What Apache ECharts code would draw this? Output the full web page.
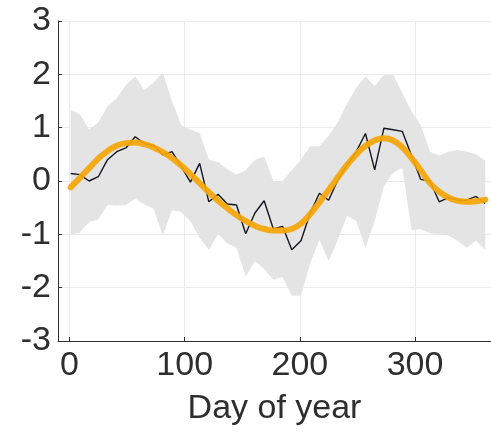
<!DOCTYPE html>
<html>
<head>
<meta charset="utf-8">
<script src="https://cdn.jsdelivr.net/npm/echarts@6/dist/echarts.min.js"></script>
<style>
  html, body { margin: 0; padding: 0; background: #ffffff; }
  #chart { width: 491px; height: 434px; }
</style>
</head>
<body>
<div id="chart"></div>
<script>
// 8-day composite periods (day of year)
const days = [1, 9, 17, 25, 33, 41, 49, 57, 65, 73, 81, 89, 97, 105, 113, 121, 129, 137, 145, 153, 161, 169, 177, 185, 193, 201, 209, 217, 225, 233, 241, 249, 257, 265, 273, 281, 289, 297, 305, 313, 321, 329, 337, 345, 353, 361];

// Observed anomaly for each period
const observed = [0.14, 0.12, 0.00, 0.08, 0.40, 0.55, 0.62, 0.83, 0.70, 0.67, 0.49, 0.55, 0.27, -0.02, 0.33, -0.39, -0.25, -0.43, -0.45, -0.99, -0.60, -0.37, -0.90, -0.85, -1.29, -1.12, -0.60, -0.23, -0.36, 0.02, 0.30, 0.55, 0.89, 0.21, 0.99, 0.96, 0.93, 0.48, 0.03, 0.00, -0.39, -0.31, -0.36, -0.36, -0.29, -0.42];

// Fitted seasonal cycle
const fitted = [-0.12, 0.06, 0.24, 0.42, 0.56, 0.66, 0.71, 0.72, 0.69, 0.63, 0.54, 0.43, 0.29, 0.13, -0.04, -0.21, -0.37, -0.51, -0.64, -0.75, -0.84, -0.90, -0.93, -0.93, -0.90, -0.80, -0.62, -0.40, -0.17, 0.07, 0.30, 0.50, 0.66, 0.76, 0.80, 0.76, 0.63, 0.43, 0.20, -0.04, -0.20, -0.31, -0.37, -0.39, -0.38, -0.35];

// Envelope across years
const lower = [-1.01, -0.96, -0.77, -0.72, -0.45, -0.46, -0.45, -0.33, -0.44, -0.52, -1.02, -0.55, -0.58, -0.75, -1.07, -1.29, -1.00, -1.17, -1.25, -1.79, -1.50, -1.65, -1.85, -1.80, -2.15, -2.15, -1.54, -1.10, -1.50, -1.10, -0.65, -0.75, -1.25, -0.75, -0.10, 0.15, 0.25, -0.92, -0.90, -0.98, -1.00, -1.02, -1.12, -1.25, -1.12, -1.29];
const upper = [1.33, 1.25, 0.96, 1.10, 1.40, 1.55, 1.80, 1.96, 1.70, 1.85, 2.03, 1.50, 1.05, 0.96, 0.90, 0.40, 0.35, 0.22, 0.12, 0.20, 0.40, 0.46, 0.00, 0.00, 0.20, 0.40, 0.65, 0.65, 0.85, 1.10, 1.45, 1.75, 1.96, 1.78, 1.99, 1.99, 1.65, 1.30, 1.05, 0.55, 0.48, 0.55, 0.58, 0.55, 0.50, 0.38];

const xTicks = [0, 100, 200, 300];
const xTitle = 'Day of year';

const pair = (arr) => days.map((d, i) => [d, arr[i]]);

const FONT = '"Liberation Sans", Arial, Helvetica, sans-serif';
const INK = '#2e2e2e';

// Shaded envelope: one polygon along the upper edge and back along the lower edge
function renderEnvelope(params, api) {
  const pts = [];
  for (let i = 0; i < days.length; i++) pts.push(api.coord([days[i], upper[i]]));
  for (let i = days.length - 1; i >= 0; i--) pts.push(api.coord([days[i], lower[i]]));
  return {
    type: 'polygon',
    shape: { points: pts },
    style: { fill: '#e4e4e4', stroke: null },
    silent: true
  };
}

const chart = echarts.init(document.getElementById('chart'), null, { renderer: 'canvas' });

chart.setOption({
  animation: false,
  backgroundColor: '#ffffff',
  grid: { left: 58, right: 0, top: 21, bottom: 93, containLabel: false },
  xAxis: {
    type: 'value',
    min: -10,
    max: 366,
    name: xTitle,
    nameLocation: 'middle',
    nameGap: 51,
    nameTextStyle: { fontFamily: FONT, fontSize: 34, color: INK },
    axisLine: { show: true, onZero: false, lineStyle: { color: INK, width: 1 } },
    axisTick: { show: true, inside: true, length: 4, customValues: xTicks, lineStyle: { color: INK } },
    axisLabel: { customValues: xTicks, fontFamily: FONT, fontSize: 34, color: INK, margin: 8 },
    splitLine: { show: true, lineStyle: { color: '#ececec', width: 1 } }
  },
  yAxis: {
    type: 'value',
    min: -3,
    max: 3,
    interval: 1,
    axisLine: { show: true, onZero: false, lineStyle: { color: INK, width: 1 } },
    axisTick: { show: true, inside: true, length: 4, lineStyle: { color: INK } },
    axisLabel: { fontFamily: FONT, fontSize: 34, color: INK, margin: 7 },
    splitLine: { show: true, lineStyle: { color: '#ececec', width: 1 } }
  },
  series: [
    {
      name: 'envelope',
      type: 'custom',
      renderItem: renderEnvelope,
      data: [0],
      clip: true,
      silent: true,
      z: 1
    },
    {
      name: 'observed',
      type: 'line',
      data: pair(observed),
      symbol: 'none',
      lineStyle: { color: '#15151f', width: 1.4 },
      z: 3
    },
    {
      name: 'fitted',
      type: 'line',
      data: pair(fitted),
      smooth: true,
      symbol: 'none',
      lineStyle: { color: '#f6a505', width: 6, opacity: 0.92, cap: 'round' },
      z: 4
    }
  ]
});
</script>
</body>
</html>
